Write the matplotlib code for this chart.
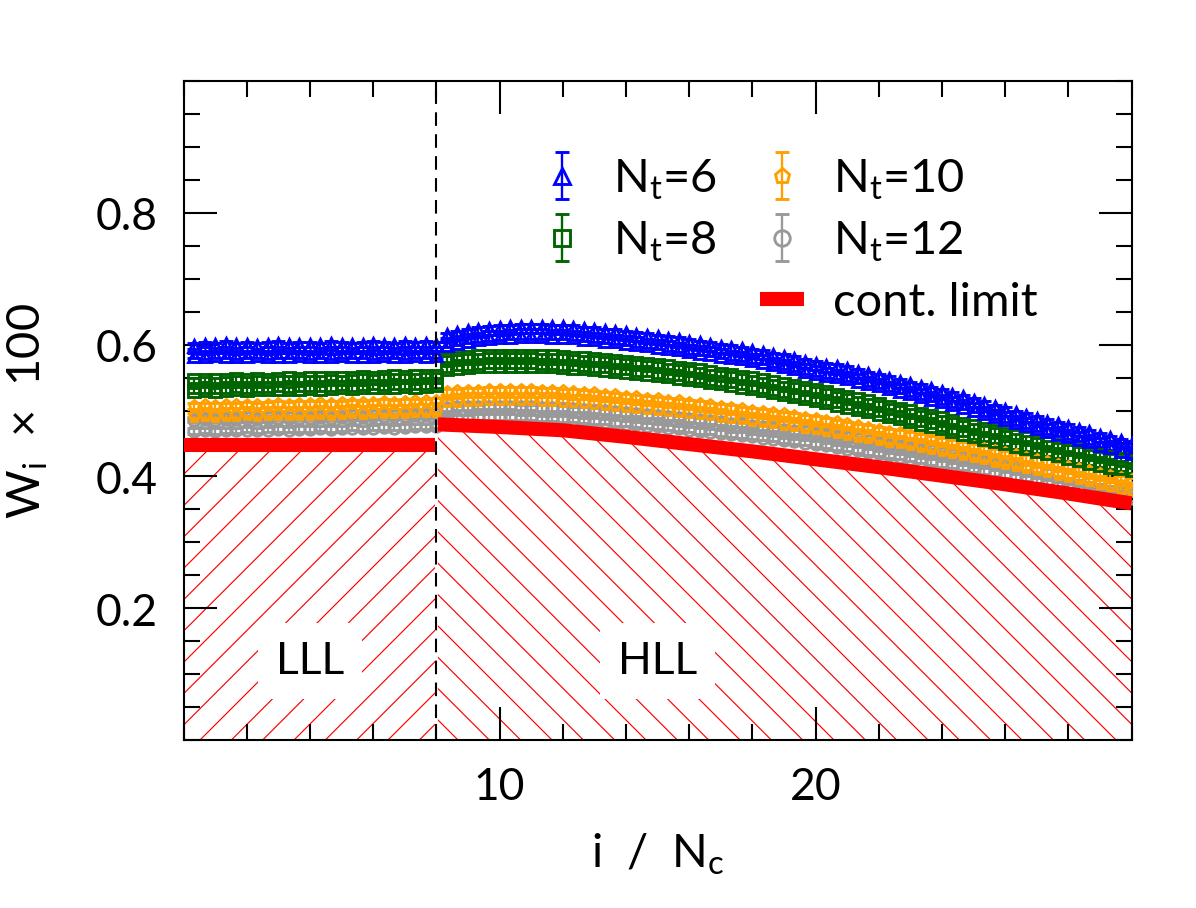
import matplotlib
matplotlib.use('Agg')
import matplotlib.pyplot as plt
import numpy as np
from matplotlib.ticker import MultipleLocator
from matplotlib.lines import Line2D

# ---------------- data ----------------
N_C = 3
I_INDEX = np.arange(1, 91)          # i = 1 .. 90

# N_t = 6 (two sub-series)
NT6_A_LLL = [0.598,0.600,0.599,0.601,0.599,0.600,0.598,0.600,0.601,0.599,0.600,0.600,
             0.599,0.601,0.600,0.599,0.600,0.601,0.600,0.599,0.601,0.600,0.601,0.600]
NT6_A_HLL = [0.614,0.617,0.620,0.622,0.624,0.625,0.626,0.627,0.627,0.627,
             0.626,0.626,0.625,0.623,0.622,0.620,0.619,0.617,0.615,0.613,
             0.611,0.609,0.607,0.604,0.602,0.600,0.597,0.595,0.593,0.590,
             0.588,0.584,0.581,0.578,0.574,0.571,0.568,0.566,0.563,0.559,
             0.555,0.552,0.548,0.544,0.540,0.536,0.532,0.528,0.524,0.520,
             0.515,0.510,0.505,0.501,0.496,0.492,0.487,0.483,0.479,0.475,
             0.471,0.467,0.462,0.458,0.453,0.449]
NT6_B_LLL = [0.583,0.582,0.584,0.583,0.582,0.583,0.584,0.582,0.583,0.583,0.584,0.582,
             0.583,0.582,0.584,0.583,0.583,0.582,0.584,0.583,0.582,0.584,0.583,0.584]
NT6_B_HLL = [0.600,0.603,0.606,0.608,0.610,0.611,0.612,0.613,0.613,0.613,
             0.612,0.612,0.611,0.609,0.608,0.606,0.605,0.603,0.601,0.599,
             0.597,0.595,0.593,0.590,0.588,0.586,0.583,0.581,0.579,0.576,
             0.574,0.570,0.567,0.564,0.560,0.557,0.554,0.552,0.549,0.545,
             0.541,0.538,0.534,0.530,0.526,0.522,0.518,0.514,0.510,0.506,
             0.501,0.496,0.491,0.487,0.482,0.478,0.473,0.469,0.465,0.461,
             0.457,0.453,0.448,0.444,0.439,0.435]

# N_t = 8
NT8_A_LLL = [0.546,0.547,0.546,0.547,0.548,0.547,0.548,0.547,0.548,0.549,0.548,0.549,
             0.549,0.550,0.549,0.550,0.551,0.550,0.551,0.552,0.551,0.552,0.553,0.553]
NT8_A_HLL = [0.578,0.580,0.581,0.582,0.583,0.583,0.583,0.583,0.583,0.582,
             0.582,0.581,0.580,0.579,0.578,0.577,0.575,0.574,0.572,0.571,
             0.569,0.567,0.565,0.563,0.561,0.558,0.556,0.554,0.551,0.549,
             0.546,0.543,0.540,0.537,0.534,0.531,0.528,0.524,0.521,0.517,
             0.514,0.510,0.506,0.503,0.499,0.495,0.492,0.488,0.484,0.480,
             0.476,0.472,0.469,0.465,0.461,0.458,0.454,0.450,0.447,0.443,
             0.440,0.436,0.433,0.430,0.427,0.424]
NT8_B_LLL = [0.530,0.531,0.530,0.531,0.532,0.531,0.532,0.532,0.533,0.532,0.533,0.534,
             0.533,0.534,0.535,0.534,0.535,0.536,0.535,0.536,0.537,0.536,0.537,0.538]
NT8_B_HLL = [0.563,0.565,0.566,0.567,0.568,0.568,0.568,0.568,0.568,0.567,
             0.567,0.566,0.565,0.564,0.563,0.562,0.560,0.559,0.557,0.556,
             0.554,0.552,0.550,0.548,0.546,0.543,0.541,0.539,0.536,0.534,
             0.531,0.528,0.525,0.522,0.519,0.516,0.513,0.509,0.506,0.502,
             0.499,0.495,0.491,0.488,0.484,0.480,0.477,0.473,0.469,0.465,
             0.461,0.457,0.454,0.450,0.446,0.443,0.439,0.435,0.432,0.428,
             0.425,0.421,0.418,0.415,0.412,0.409]

# N_t = 10
NT10_A_LLL = [0.507,0.508,0.507,0.508,0.508,0.509,0.508,0.509,0.510,0.509,0.510,0.510,
              0.511,0.510,0.511,0.512,0.511,0.512,0.513,0.512,0.513,0.514,0.514,0.515]
NT10_A_HLL = [0.528,0.529,0.530,0.530,0.531,0.531,0.531,0.531,0.531,0.530,
              0.530,0.529,0.528,0.527,0.526,0.524,0.523,0.521,0.520,0.518,
              0.517,0.515,0.514,0.512,0.510,0.508,0.506,0.504,0.502,0.500,
              0.498,0.496,0.494,0.492,0.489,0.487,0.484,0.482,0.479,0.476,
              0.474,0.471,0.468,0.466,0.463,0.460,0.457,0.454,0.451,0.448,
              0.445,0.442,0.438,0.435,0.432,0.428,0.425,0.422,0.418,0.415,
              0.411,0.408,0.404,0.401,0.397,0.394]
NT10_B_LLL = [0.492,0.493,0.492,0.493,0.493,0.494,0.493,0.494,0.495,0.494,0.495,0.495,
              0.496,0.495,0.496,0.497,0.496,0.497,0.498,0.497,0.498,0.499,0.499,0.500]
NT10_B_HLL = [0.514,0.515,0.516,0.516,0.517,0.517,0.517,0.517,0.517,0.516,
              0.516,0.515,0.514,0.513,0.512,0.510,0.509,0.507,0.506,0.504,
              0.503,0.501,0.500,0.498,0.496,0.494,0.492,0.490,0.488,0.486,
              0.484,0.482,0.480,0.478,0.475,0.473,0.470,0.468,0.465,0.462,
              0.460,0.457,0.454,0.452,0.449,0.446,0.443,0.440,0.437,0.434,
              0.431,0.428,0.424,0.421,0.418,0.414,0.411,0.408,0.404,0.401,
              0.397,0.394,0.390,0.387,0.383,0.380]

# N_t = 12
NT12_A_LLL = [0.486,0.487,0.486,0.487,0.487,0.488,0.487,0.488,0.489,0.488,0.489,0.489,
              0.490,0.489,0.490,0.491,0.490,0.491,0.492,0.491,0.492,0.493,0.493,0.494]
NT12_A_HLL = [0.504,0.505,0.505,0.506,0.506,0.506,0.506,0.505,0.505,0.504,
              0.504,0.503,0.502,0.501,0.500,0.499,0.497,0.496,0.495,0.493,
              0.492,0.490,0.489,0.487,0.485,0.484,0.482,0.480,0.479,0.477,
              0.475,0.473,0.471,0.469,0.467,0.465,0.463,0.460,0.458,0.456,
              0.453,0.451,0.448,0.446,0.443,0.440,0.438,0.435,0.432,0.430,
              0.427,0.424,0.421,0.418,0.415,0.413,0.410,0.407,0.404,0.401,
              0.398,0.395,0.392,0.389,0.386,0.383]
NT12_B_LLL = [0.469,0.470,0.469,0.470,0.470,0.471,0.470,0.471,0.472,0.471,0.472,0.472,
              0.473,0.472,0.473,0.474,0.473,0.474,0.475,0.474,0.475,0.476,0.476,0.477]
NT12_B_HLL = [0.488,0.489,0.489,0.490,0.490,0.490,0.490,0.489,0.489,0.488,
              0.488,0.487,0.486,0.485,0.484,0.483,0.481,0.480,0.479,0.477,
              0.476,0.474,0.473,0.471,0.469,0.468,0.466,0.464,0.463,0.461,
              0.459,0.457,0.455,0.453,0.451,0.449,0.447,0.444,0.442,0.440,
              0.437,0.435,0.432,0.430,0.427,0.424,0.422,0.419,0.416,0.414,
              0.411,0.408,0.405,0.402,0.399,0.397,0.394,0.391,0.388,0.385,
              0.382,0.379,0.376,0.373,0.370,0.367]

ERR_NT6, ERR_NT8, ERR_NT10, ERR_NT12 = 0.004, 0.004, 0.004, 0.004

# continuum limit
CONT_LLL_X = [0.0, 7.95]
CONT_LLL_Y = [0.448, 0.448]
CONT_HLL_X = [8.05, 10, 12, 14, 16, 18, 20, 22, 24, 26, 28, 30]
CONT_HLL_Y = [0.479, 0.475, 0.470, 0.460, 0.449, 0.438, 0.426, 0.414, 0.401, 0.388, 0.374, 0.359]

LABELS = [r'N$_\mathrm{t}$=6', r'N$_\mathrm{t}$=8', r'N$_\mathrm{t}$=10', r'N$_\mathrm{t}$=12']
X_TICKS = [10, 20]
Y_TICKS = [0.2, 0.4, 0.6, 0.8]
Y_TICKLABELS = ['0.2', '0.4', '0.6', '0.8']

# ---------------- style ----------------
plt.rcParams['font.family'] = ['Lato', 'DejaVu Sans']
plt.rcParams['mathtext.fontset'] = 'custom'
plt.rcParams['mathtext.rm'] = 'Lato'
plt.rcParams['mathtext.it'] = 'Lato'
plt.rcParams['hatch.linewidth'] = 0.45

DPI = 188
FS = 17
LFS = 18
fig = plt.figure(figsize=(1196 / DPI, 909 / DPI), dpi=DPI)
ax = fig.add_axes([183.5 / 1196, 1 - 741 / 909, 948 / 1196, 659 / 909])

x = I_INDEX / N_C

# hatched regions
ax.fill_between(CONT_LLL_X, 0, CONT_LLL_Y, facecolor='none', edgecolor='red',
                hatch='//', linewidth=0, zorder=1)
ax.fill_between(CONT_HLL_X, 0, CONT_HLL_Y, facecolor='none', edgecolor='red',
                hatch='\\\\', linewidth=0, zorder=1)

series = [
    (NT12_A_LLL + NT12_A_HLL, NT12_B_LLL + NT12_B_HLL, ERR_NT12, 'o', '#999999', LABELS[3]),
    (NT10_A_LLL + NT10_A_HLL, NT10_B_LLL + NT10_B_HLL, ERR_NT10, 'p', '#FFA000', LABELS[2]),
    (NT8_A_LLL + NT8_A_HLL, NT8_B_LLL + NT8_B_HLL, ERR_NT8, 's', '#006400', LABELS[1]),
    (NT6_A_LLL + NT6_A_HLL, NT6_B_LLL + NT6_B_HLL, ERR_NT6, '^', '#0000FF', LABELS[0]),
]
handles = {}
for k, (ya, yb, err, mk, col, lab) in enumerate(series):
    for j, yy in enumerate((yb, ya)):
        h = ax.errorbar(x, yy, yerr=err, fmt=mk, ms=4.4, mfc='none', mec=col, mew=1.1,
                        ecolor=col, elinewidth=0.9, capsize=2.6, capthick=0.9,
                        zorder=3 + k * 0.1 + j * 0.01)
        handles[lab] = h

ax.plot(CONT_LLL_X, CONT_LLL_Y, color='red', lw=5.4, solid_capstyle='butt', zorder=5)
red, = ax.plot(CONT_HLL_X, CONT_HLL_Y, color='red', lw=5.4, solid_capstyle='butt',
               zorder=5, label='cont. limit')

ax.axvline(8, color='black', lw=0.8, ls=(0, (6.5, 4)), zorder=4)

ax.text(4.0, 0.12, 'LLL', fontsize=FS, ha='center', va='center', zorder=6,
        bbox=dict(boxstyle='square,pad=0.4', fc='white', ec='none'))
ax.text(15.0, 0.12, 'HLL', fontsize=FS, ha='center', va='center', zorder=6,
        bbox=dict(boxstyle='square,pad=0.4', fc='white', ec='none'))

blank = Line2D([], [], alpha=0)
leg_handles = [handles[LABELS[0]], handles[LABELS[1]], blank,
               handles[LABELS[2]], handles[LABELS[3]], red]
leg_labels = [LABELS[0], LABELS[1], '', LABELS[2], LABELS[3], 'cont. limit']
ax.legend(leg_handles, leg_labels, loc='upper left',
          bbox_to_anchor=((540 - 183.5) / 948, (741 - 158) / 659),
          frameon=False, ncol=2, fontsize=LFS, handlelength=0.95, handletextpad=0.6,
          columnspacing=0.92, labelspacing=0.38, markerscale=1.35, borderpad=0,
          borderaxespad=0)

ax.set_xlim(0, 30)
ax.set_ylim(0, 1)
ax.set_xticks(X_TICKS)
ax.xaxis.set_minor_locator(MultipleLocator(2))
ax.set_yticks(Y_TICKS)
ax.set_yticklabels(Y_TICKLABELS)
ax.yaxis.set_minor_locator(MultipleLocator(0.05))
ax.tick_params(which='both', direction='in', top=True, right=True, width=0.8,
               labelsize=FS, pad=10)
ax.tick_params(which='major', length=12.5)
ax.tick_params(which='minor', length=6)
for s in ax.spines.values():
    s.set_linewidth(0.8)

ax.set_xlabel(r'i  /  N$_\mathrm{c}$', fontsize=FS + 1)
ax.xaxis.set_label_coords(0.5, -(832 - 741) / 659)
ax.set_ylabel(r'W$_\mathrm{i}$  ×  100', fontsize=FS + 1)
ax.yaxis.set_label_coords(-(183.5 - 50) / 948, 0.5)

fig.savefig('out.png', dpi=DPI)
